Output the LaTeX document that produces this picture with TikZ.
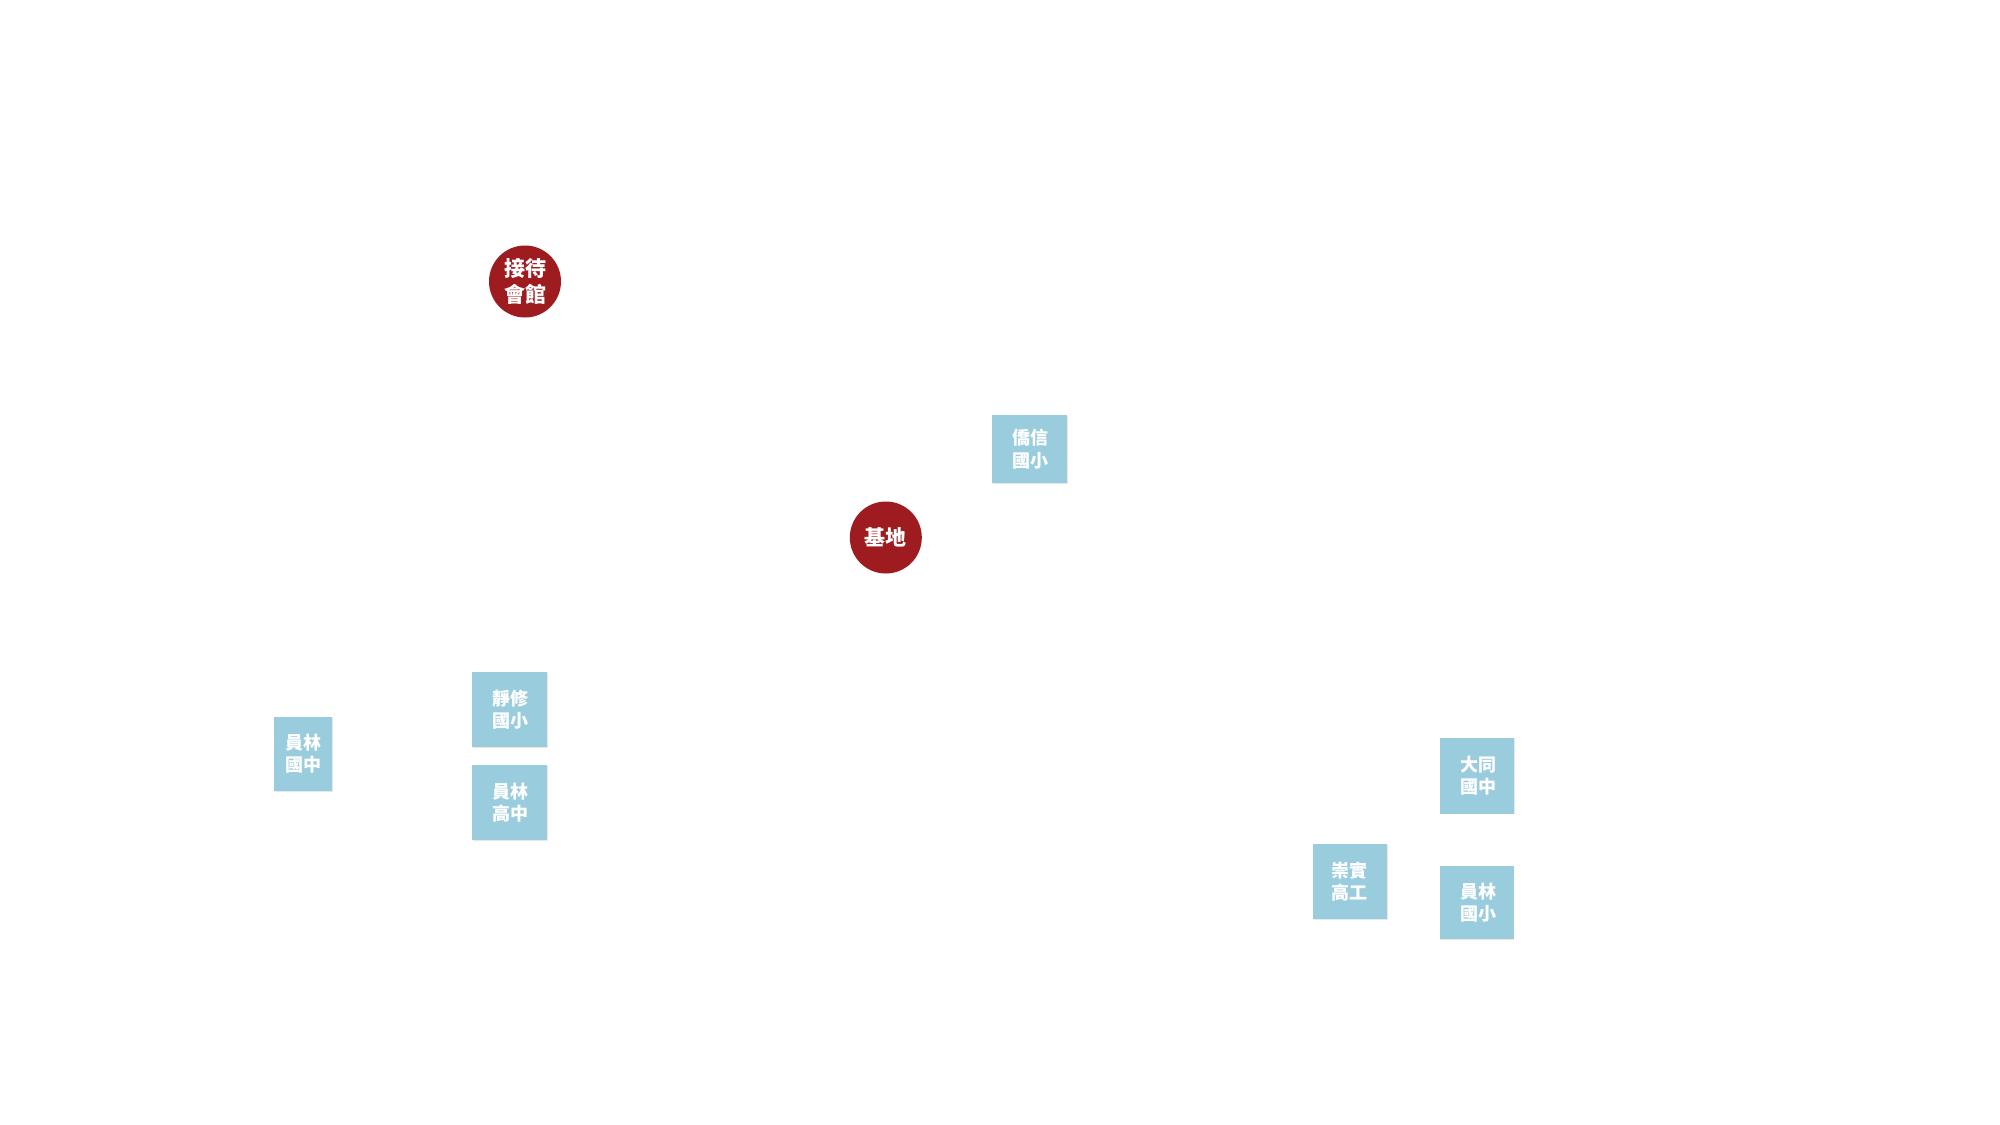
\documentclass[tikz,border=0pt]{standalone}
\usepackage{fontspec}
\newfontfamily\cjk{Noto Sans CJK TC}
\usetikzlibrary{shadows}
\definecolor{sitered}{RGB}{158,27,32}
\definecolor{schoolblue}{RGB}{153,204,221}
\tikzset{
  site/.style={circle, fill=sitered, text=white, inner sep=0pt, minimum size=36pt,
    align=center, font=\cjk\bfseries\fontsize{10.5pt}{12.8pt}\selectfont},
  school/.style={rectangle, fill=schoolblue, text=white, inner sep=0pt, align=center,
    font=\cjk\bfseries\fontsize{9pt}{11.2pt}\selectfont,
    drop shadow={opacity=0.18, shadow xshift=0.4pt, shadow yshift=-0.4pt}}
}
\begin{document}
\begin{tikzpicture}[x=0.5pt,y=-0.5pt]
\useasboundingbox (0,0) rectangle (2000,1124);
\fill[white] (0,0) rectangle (2000,1124);
\node[site] (jiedai) at (525,281.5) {接待\\會館};
\node[site] (jidi) at (885.8,537.5) {基地};
\node[school, minimum width=37.5pt, minimum height=34pt] (qiaoxin) at (1029.2,449.2) {\hspace*{1.5pt}僑信\\\hspace*{1.5pt}國小};
\node[school, minimum width=37.5pt, minimum height=37.5pt] (jingxiu) at (509.2,709.8) {\hspace*{1.5pt}靜修\\\hspace*{1.5pt}國小};
\node[school, minimum width=37.5pt, minimum height=37.5pt] (ylgaozhong) at (509.2,802.5) {\hspace*{1.5pt}員林\\\hspace*{1.5pt}高中};
\node[school, minimum width=29pt, minimum height=37pt] (ylguozhong) at (303.2,753.8) {員林\\國中};
\node[school, minimum width=37pt, minimum height=38pt] (datong) at (1476.7,775.5) {\hspace*{1.5pt}大同\\\hspace*{1.5pt}國中};
\node[school, minimum width=37pt, minimum height=37.5pt] (chongshi) at (1349.7,881.5) {崇實\\高工};
\node[school, minimum width=37pt, minimum height=36.5pt] (ylguoxiao) at (1476.5,902.5) {\hspace*{1.5pt}員林\\\hspace*{1.5pt}國小};
\end{tikzpicture}
\end{document}
